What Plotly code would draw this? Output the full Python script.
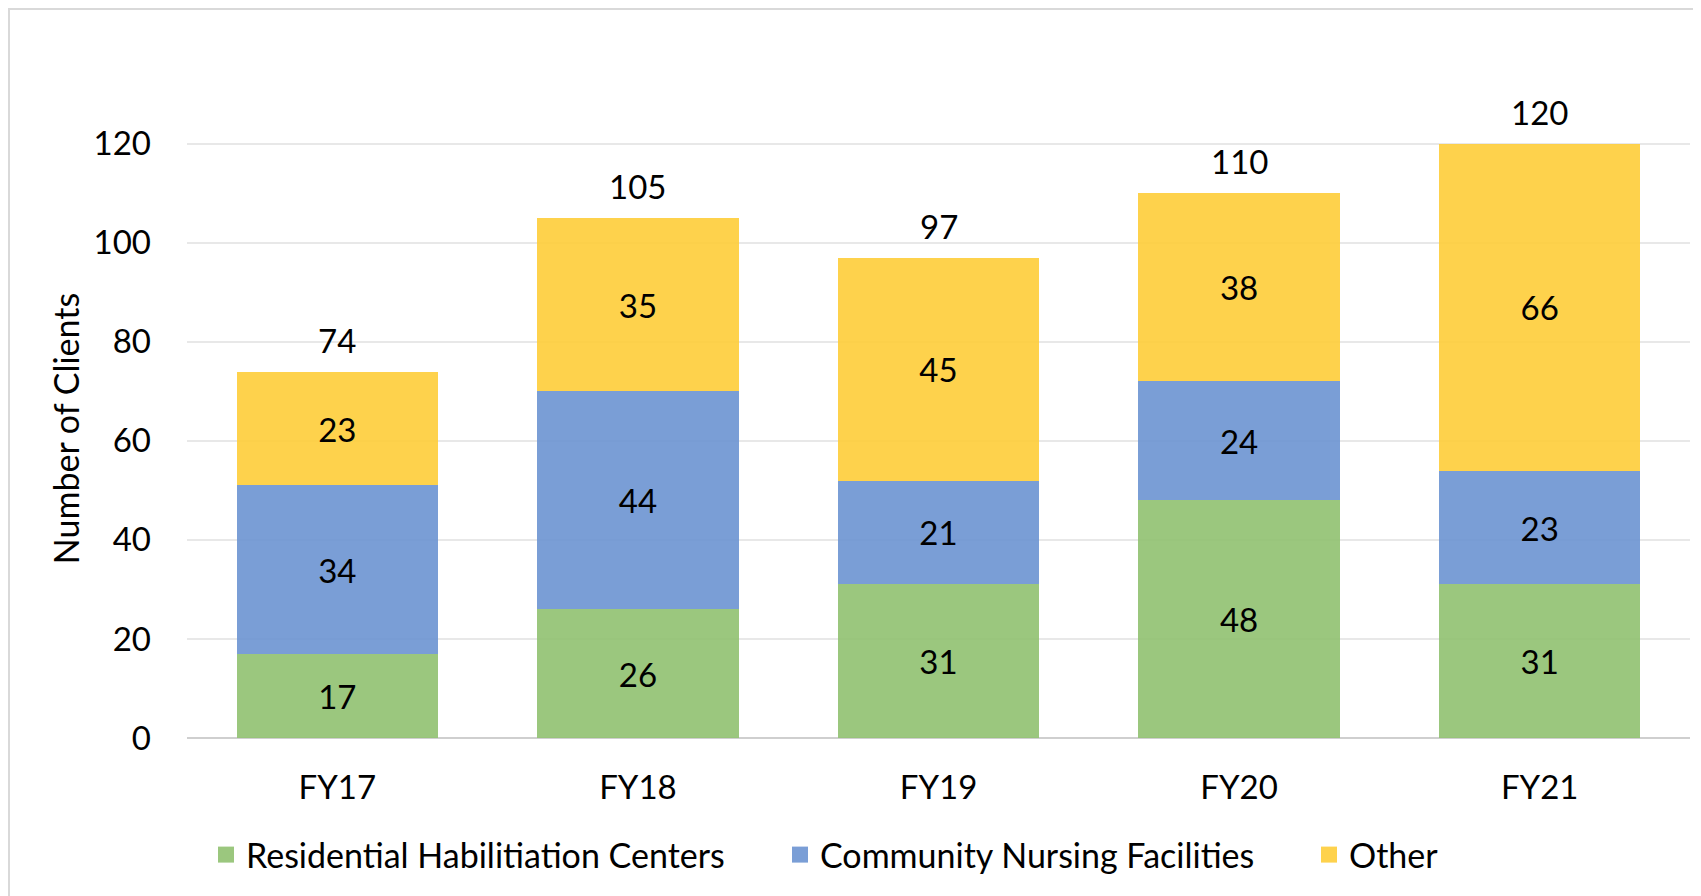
import plotly.graph_objects as go

years = ["FY17", "FY18", "FY19", "FY20", "FY21"]
residential = [17, 26, 31, 48, 31]
nursing = [34, 44, 21, 24, 23]
other = [23, 35, 45, 38, 66]
totals = [74, 105, 97, 110, 120]
y_ticks = [0, 20, 40, 60, 80, 100, 120]

FONT = "Lato"
# page has an 8px body margin, so the figure is 8px smaller than the window
W, H = 1693, 888

fig = go.Figure()

series = [
    ("Residential Habilitiation Centers", residential, "rgb(144,193,112)", "rgb(155,199,126)", "legend", 216),
    ("Community Nursing Facilities", nursing, "rgb(107,147,209)", "rgb(122,158,214)", "legend2", 790),
    ("Other", other, "rgb(254,205,57)", "rgb(254,210,77)", "legend3", 1319),
]
for name, vals, color, solid, leg, _ in series:
    fig.add_trace(go.Bar(
        x=years, y=vals, name=name, showlegend=False,
        marker=dict(color=color, opacity=0.9, line=dict(width=0)),
        text=vals, textposition="inside", insidetextanchor="middle",
        textfont=dict(family=FONT, size=33, color="black"),
    ))
    # legend entry with a bigger square swatch
    fig.add_trace(go.Scatter(
        x=[None], y=[None], mode="markers", name=name, legend=leg,
        marker=dict(symbol="square", size=20, color=solid),
    ))

# totals above each stack
for yr, tot in zip(years, totals):
    fig.add_annotation(x=yr, y=tot, text=str(tot), showarrow=False,
                       yanchor="middle", yshift=32,
                       font=dict(family=FONT, size=33, color="black"))

legends = {}
for _, _, _, _, leg, sq_left in series:
    legends[leg] = dict(
        orientation="h", xref="container", yref="container",
        x=(sq_left - 18) / W, xanchor="left",
        y=(H - 847) / H, yanchor="middle",
        font=dict(family=FONT, size=34, color="black"),
        bgcolor="rgba(0,0,0,0)", itemwidth=30,
    )

fig.update_layout(
    width=W, height=H,
    barmode="stack", bargap=0.33,
    plot_bgcolor="white", paper_bgcolor="white",
    margin=dict(l=179, r=11, t=111, b=158),
    font=dict(family=FONT, size=33, color="black"),
    **legends,
)
fig.update_xaxes(showgrid=False, showline=False, ticks="", ticklabelstandoff=27,
                 tickfont=dict(size=33), automargin=False)
fig.update_yaxes(range=[0, 125], tickvals=y_ticks, showgrid=True, gridcolor="#E8E8E8",
                 gridwidth=2, zeroline=True, zerolinecolor="#CFCFCF", zerolinewidth=2,
                 ticks="", ticklabelstandoff=35, tickfont=dict(size=33), automargin=False,
                 title=dict(text="Number of Clients", font=dict(size=34), standoff=3))

# light frame round the chart (top and left edges visible)
plot_w = W - 179 - 11
plot_h = H - 111 - 158
fig.add_shape(type="rect", xref="paper", yref="paper",
              x0=(1 - 179) / plot_w, x1=1.2, y0=-0.4, y1=(H - 158 - 1) / plot_h,
              line=dict(color="#D9D9D9", width=2), fillcolor="rgba(0,0,0,0)")

fig.write_html("out.html")
